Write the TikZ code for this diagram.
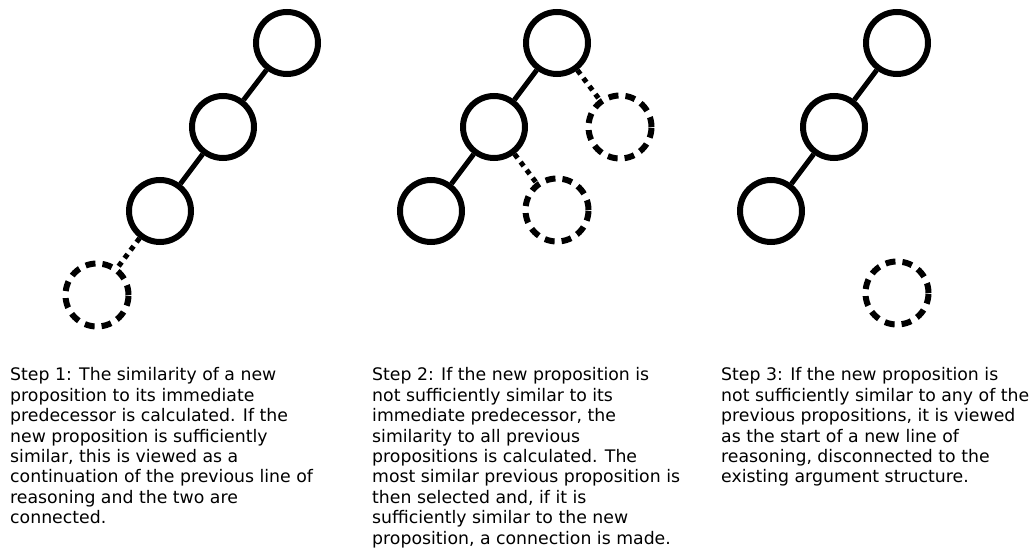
\documentclass[tikz,border=0pt]{standalone}
\usepackage{fontspec}
\setmainfont{DejaVu Sans}
\begin{document}
\begin{tikzpicture}[x=1pt,y=-1pt,
  prop/.style={circle,draw,line width=6pt,minimum size=62pt,inner sep=0pt},
  newprop/.style={prop,minimum size=63pt,dash pattern=on 10pt off 7pt},
  link/.style={line width=5pt},
  trylink/.style={line width=5pt,dash pattern=on 5pt off 5pt},
  desc/.style={anchor=north west,inner sep=0pt,align=left,
    font=\fontsize{17.3pt}{20.4pt}\selectfont}]
\useasboundingbox (0,0) rectangle (1029,553);
% Panel 1
\node[prop] (a1) at (287,43) {};
\node[prop] (a2) at (223,127) {};
\node[prop] (a3) at (160,211) {};
\node[newprop] (a4) at (97,295) {};
\draw[link] (a1) -- (a2);
\draw[link] (a2) -- (a3);
\draw[trylink] (a3) -- (a4);
% Panel 2
\node[prop] (b1) at (557,43) {};
\node[prop] (b2) at (494,127) {};
\node[prop] (b3) at (431,211) {};
\node[newprop] (b4) at (620,127) {};
\node[newprop] (b5) at (557,210) {};
\draw[link] (b1) -- (b2);
\draw[link] (b2) -- (b3);
\draw[trylink] (b1) -- (b4);
\draw[trylink] (b2) -- (b5);
% Panel 3
\node[prop] (c1) at (897,43) {};
\node[prop] (c2) at (834,127) {};
\node[prop] (c3) at (771,211) {};
\node[newprop] (c4) at (897,293) {};
\draw[link] (c1) -- (c2);
\draw[link] (c2) -- (c3);
% Texts
\node[desc] (t1) at (10,367.5) {Step 1: The similarity of a new\\
proposition to its immediate\\
predecessor is calculated. If the\\
new proposition is sufficiently\\
similar, this is viewed as a\\
continuation of the previous line of\\
reasoning and the two are\\
connected.};
\node[desc] (t2) at (372,367.5) {Step 2: If the new proposition is\\
not sufficiently similar to its\\
immediate predecessor, the\\
similarity to all previous\\
propositions is calculated. The\\
most similar previous proposition is\\
then selected and, if it is\\
sufficiently similar to the new\\
proposition, a connection is made.};
\node[desc] (t3) at (721,367.5) {Step 3: If the new proposition is\\
not sufficiently similar to any of the\\
previous propositions, it is viewed\\
as the start of a new line of\\
reasoning, disconnected to the\\
existing argument structure.};
\end{tikzpicture}
\end{document}
